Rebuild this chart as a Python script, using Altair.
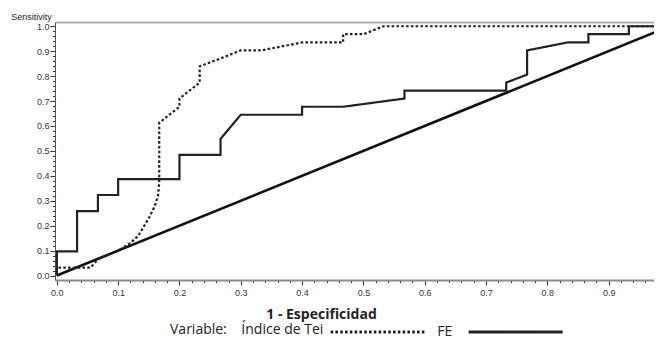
import altair as alt
import pandas as pd

# ---- data ----
tei_name = "Índice de Tei"
fe_name = "FE"

tei_x = [0.0, 0.0, 0.055, 0.067, 0.1, 0.12, 0.133, 0.15, 0.16, 0.165, 0.167, 0.167,
         0.2, 0.2, 0.233, 0.233, 0.267, 0.3, 0.333, 0.4, 0.467, 0.467, 0.5, 0.533, 1.0]
tei_y = [0.0, 0.032, 0.032, 0.065, 0.1, 0.13, 0.16, 0.23, 0.28, 0.32, 0.37, 0.613,
         0.677, 0.71, 0.774, 0.839, 0.871, 0.903, 0.903, 0.935, 0.935, 0.968, 0.968, 1.0, 1.0]

fe_x = [0.0, 0.0, 0.033, 0.033, 0.067, 0.067, 0.1, 0.1, 0.2, 0.2, 0.267, 0.267, 0.3,
        0.4, 0.4, 0.467, 0.567, 0.567, 0.733, 0.733, 0.767, 0.767, 0.833, 0.867, 0.867,
        0.933, 0.933, 1.0]
fe_y = [0.0, 0.097, 0.097, 0.258, 0.258, 0.323, 0.323, 0.387, 0.387, 0.484, 0.484, 0.548, 0.645,
        0.645, 0.677, 0.677, 0.71, 0.742, 0.742, 0.774, 0.806, 0.903, 0.935, 0.935, 0.968,
        0.968, 1.0, 1.0]

ref_x = [0.0, 1.0]
ref_y = [0.0, 1.0]

tick_values = [0.0, 0.02, 0.04, 0.06, 0.08, 0.1, 0.12, 0.14, 0.16, 0.18,
               0.2, 0.22, 0.24, 0.26, 0.28, 0.3, 0.32, 0.34, 0.36, 0.38,
               0.4, 0.42, 0.44, 0.46, 0.48, 0.5, 0.52, 0.54, 0.56, 0.58,
               0.6, 0.62, 0.64, 0.66, 0.68, 0.7, 0.72, 0.74, 0.76, 0.78,
               0.8, 0.82, 0.84, 0.86, 0.88, 0.9, 0.92, 0.94, 0.96, 0.98, 1.0]

rows = []
for i, (a, b) in enumerate(zip(tei_x, tei_y)):
    rows.append({"series": tei_name, "x": a, "y": b, "order": i})
for i, (a, b) in enumerate(zip(fe_x, fe_y)):
    rows.append({"series": fe_name, "x": a, "y": b, "order": i})
df = pd.DataFrame(rows)
ref_df = pd.DataFrame({"x": ref_x, "y": ref_y})

xscale = alt.Scale(domain=[-0.003, 0.974], nice=False, zero=False)
yscale = alt.Scale(domain=[-0.018, 1.017], nice=False, zero=False)

major = "abs(datum.value*10 - round(datum.value*10)) < 0.001"
lbl = f"{major} ? format(datum.value, '.1f') : ''"
tsize = {"condition": {"test": major, "value": 5}, "value": 2.5}

x_axis = alt.Axis(
    values=tick_values, labelExpr=lbl, tickSize=tsize, labelOverlap=False,
    labelFlush=False, labelFont="Liberation Sans", labelFontSize=9, labelColor="#333",
    labelPadding=3, domainColor="#8a8a8a", domainWidth=2, tickColor="#333", tickWidth=1,
    grid=False, title="1 - Especificidad", titleFont="Open Sans", titleFontWeight="bold",
    titleFontSize=14, titleColor="#222", titleX=266, titleY=34,
    titleAlign="center", titleBaseline="middle",
)
y_axis = alt.Axis(
    orient="left",
    values=tick_values, labelExpr=lbl, tickSize=tsize, labelOverlap=False,
    labelFlush=False, labelFont="Liberation Sans", labelFontSize=9, labelColor="#333",
    labelPadding=1, domainColor="#555", domainWidth=1, tickColor="#333", tickWidth=1,
    grid=False, title="Sensitivity", titleAngle=0, titleX=-24, titleY=-6,
    titleAlign="center", titleBaseline="middle", titleFont="Liberation Sans",
    titleFontSize=9, titleFontWeight="normal", titleColor="#222",
)

# legend symbol: a horizontal stroke starting at the symbol box's left edge,
# ten half-box-widths long (Vega scales custom paths by sqrt(size)/2)
sym_half = 9.4
legend_sym_path = "M-1,0H9"
nbsp = "\u00a0"

diag = alt.Chart(ref_df).mark_line(color="#111", strokeWidth=2.6, clip=True).encode(
    x=alt.X("x:Q", scale=xscale, axis=None),
    y=alt.Y("y:Q", scale=yscale, axis=y_axis),
)

curves = alt.Chart(df).mark_line(strokeWidth=2.2, clip=True, color="#222").encode(
    x=alt.X("x:Q", scale=xscale, axis=x_axis),
    y=alt.Y("y:Q", scale=yscale, axis=y_axis),
    order="order:Q",
    detail="series:N",
    strokeDash=alt.StrokeDash(
        "series:N",
        scale=alt.Scale(domain=[tei_name, fe_name], range=[[2.6, 2.2], [1, 0]]),
        legend=alt.Legend(
            orient="none", legendX=115, legendY=299, direction="horizontal",
            title="Variable:" + nbsp * 4 + tei_name, titleOrient="left", titleFont="Open Sans",
            titleFontWeight="normal", titleFontSize=14, titleColor="#222", titlePadding=5,
            titleBaseline="middle",
            labelExpr=f"datum.label == '{tei_name}' ? '{fe_name}' : ''",
            labelFont="Open Sans", labelFontSize=14, labelColor="#222",
            labelOffset=10 * sym_half - 2 * sym_half + 11,
            symbolType=legend_sym_path, symbolSize=(2 * sym_half) ** 2,
            symbolStrokeWidth=2.8, symbolStrokeColor="#222", symbolFillColor="transparent",
            columnPadding=10,
        ),
    ),
)

top = alt.Chart(ref_df).mark_line(opacity=0).encode(
    x=alt.X("x:Q", scale=xscale, axis=alt.Axis(orient="top", labels=False, ticks=False,
                                                title=None, domainColor="#b0b0b0",
                                                domainWidth=2, grid=False)),
    y=alt.Y("y:Q", scale=yscale, axis=y_axis),
)

chart = alt.layer(diag, curves, top).resolve_axis(x="independent").properties(
    width=599, height=258,
    autosize=alt.AutoSizeParams(type="none"),
    padding={"left": 47, "top": 14, "right": 0, "bottom": 59},
    background="white",
).configure_view(stroke=None)

chart.save("out.html", embed_options={"renderer": "svg", "actions": False})
